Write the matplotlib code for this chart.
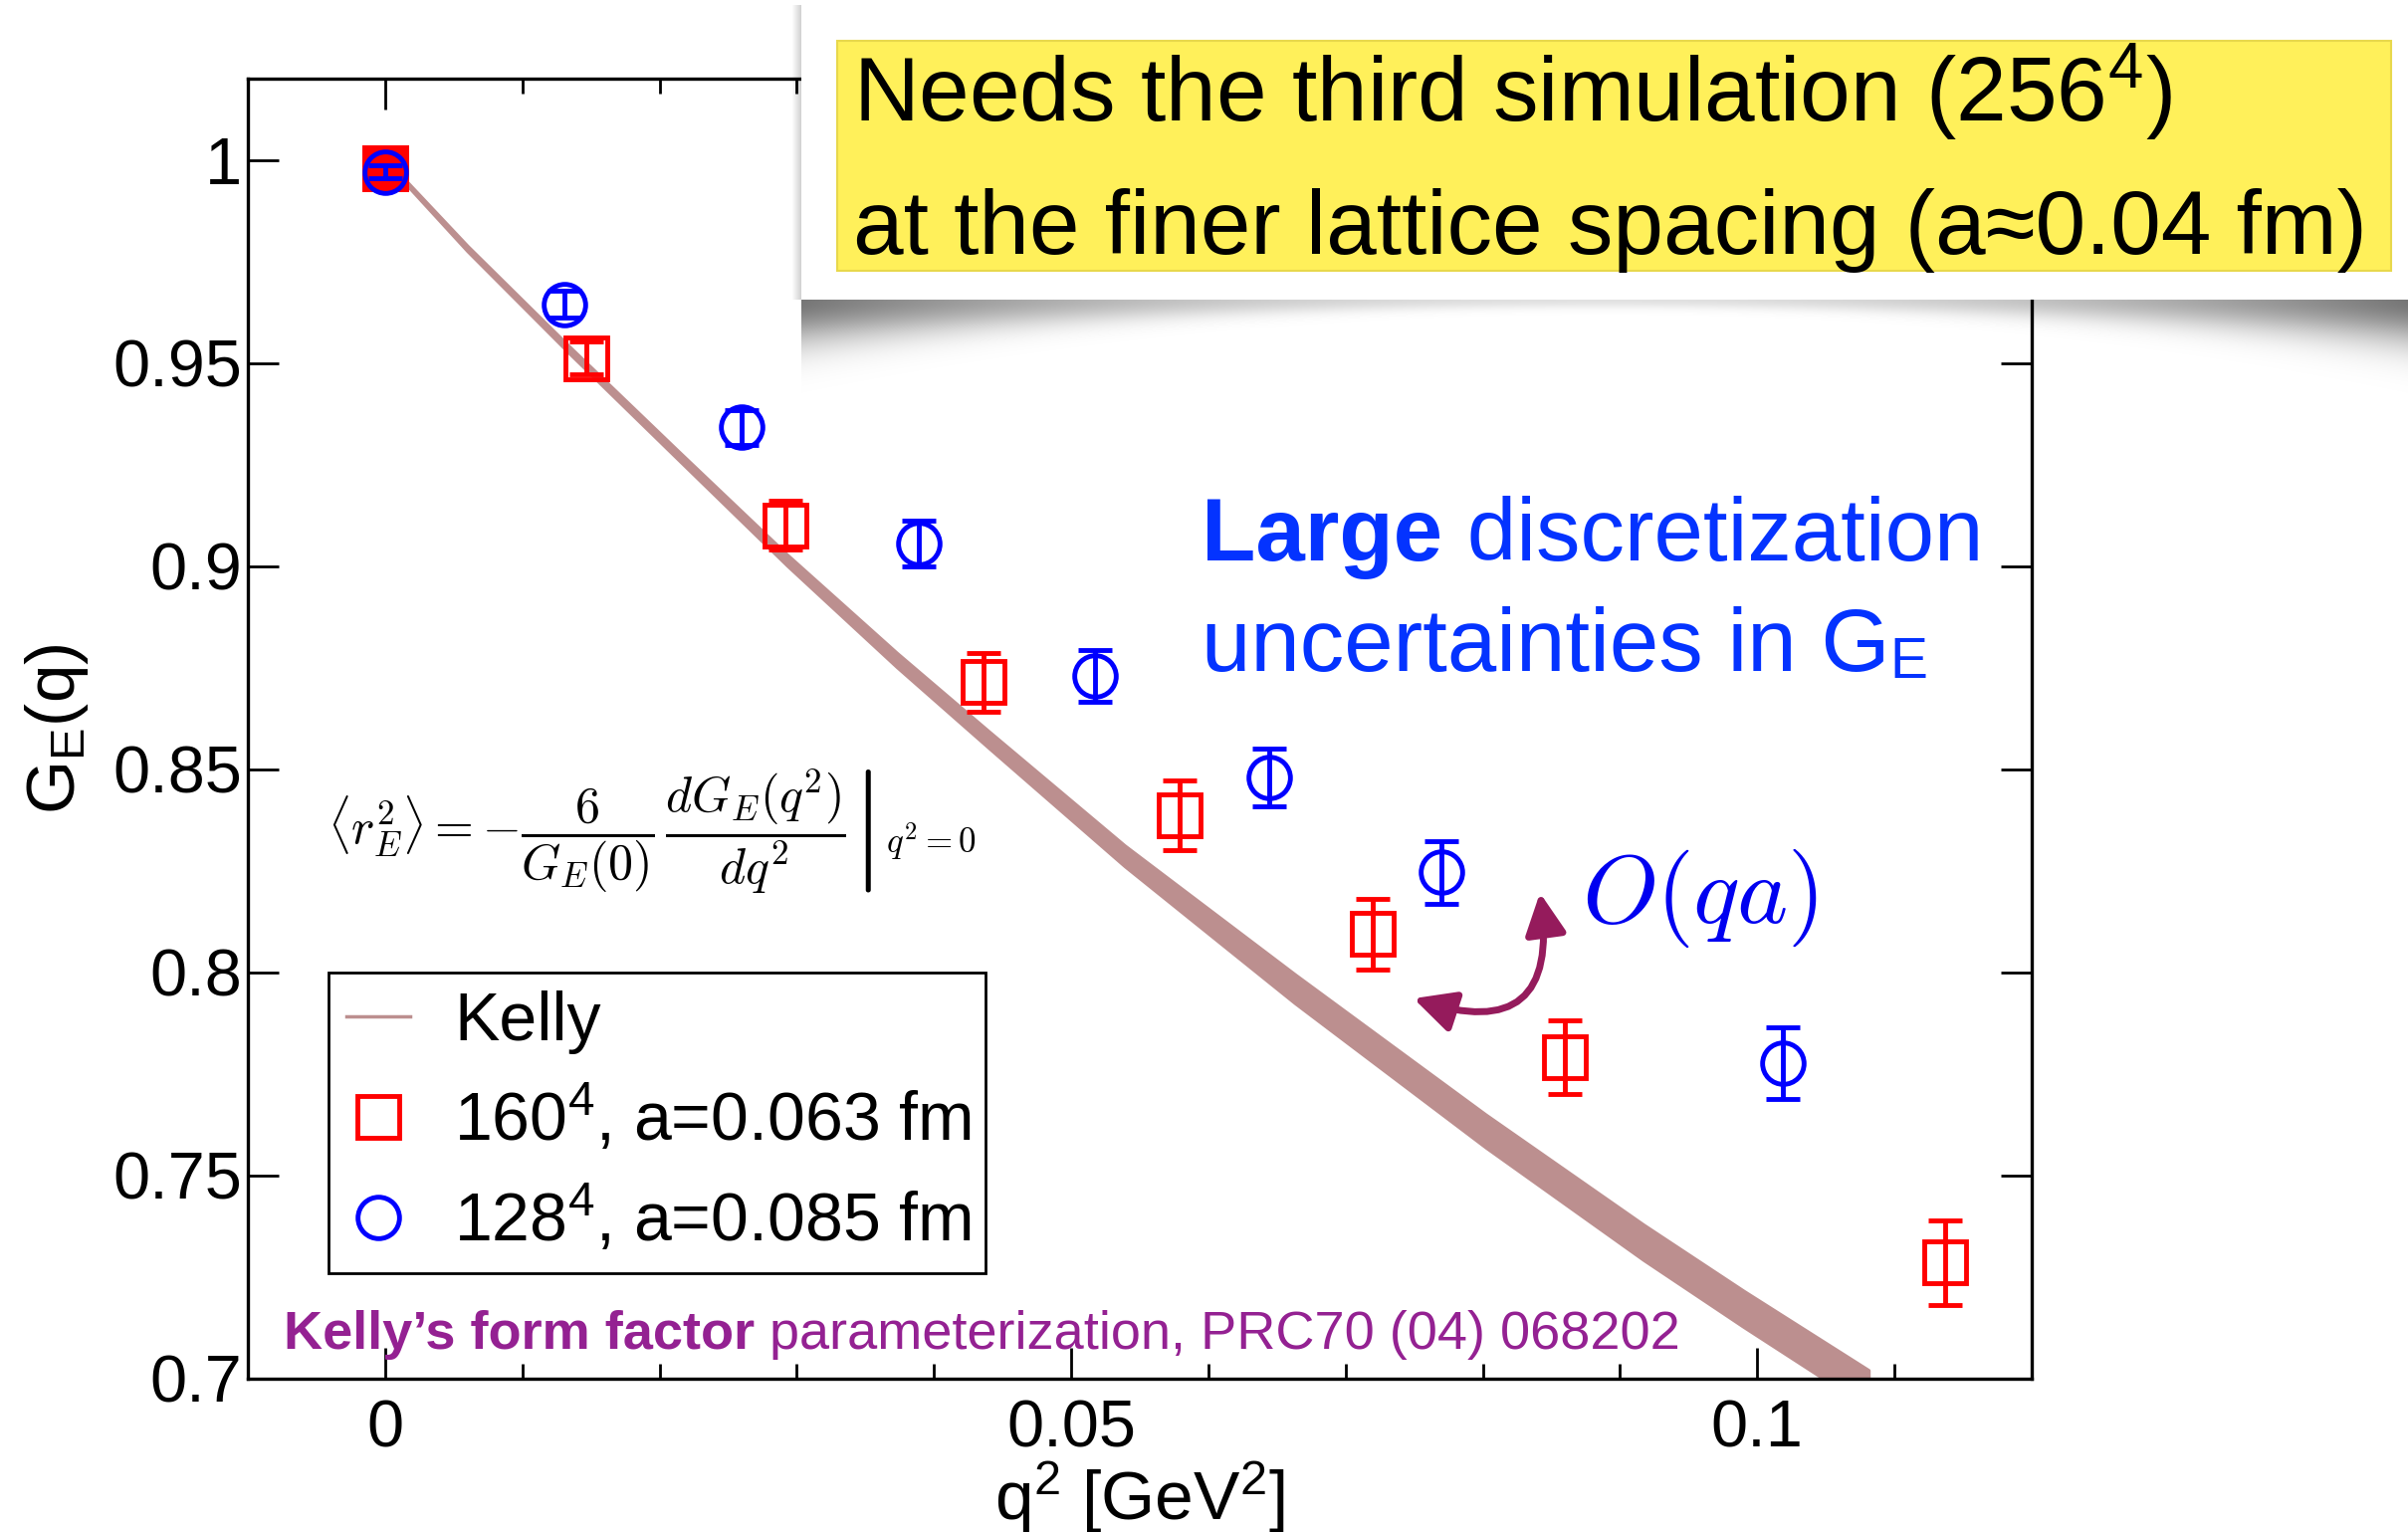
import numpy as np
import matplotlib
matplotlib.use('Agg')
import matplotlib.pyplot as plt
from matplotlib.patches import Rectangle, FancyArrowPatch
from matplotlib.lines import Line2D
from matplotlib.legend_handler import HandlerLine2D
from matplotlib.ticker import MultipleLocator, FuncFormatter

plt.rcParams['font.family'] = ['Liberation Sans', 'DejaVu Sans']
plt.rcParams['mathtext.fontset'] = 'custom'
plt.rcParams['mathtext.rm'] = 'Liberation Sans'
plt.rcParams['mathtext.it'] = 'Liberation Sans:italic'
plt.rcParams['mathtext.bf'] = 'Liberation Sans:bold'

# Kelly parameterization (central value and half-width of the band)
kelly_q2 = [0.0, 0.0060, 0.0135, 0.0213, 0.0293, 0.0373, 0.0440, 0.0539,
            0.0663, 0.0802, 0.0917, 0.0990, 0.1081]
kelly_ge = [1.0, 0.9782, 0.9530, 0.9275, 0.9015, 0.8769, 0.8573, 0.8287,
            0.7960, 0.7610, 0.7336, 0.7172, 0.6975]
kelly_err = [0.0003, 0.0006, 0.0008, 0.0010, 0.0013, 0.0017, 0.0020, 0.0025,
             0.0035, 0.0040, 0.0043, 0.0044, 0.0046]

# 160^4 lattice, a = 0.063 fm
red_q2 = [0.0, 0.0147, 0.0292, 0.0436, 0.0579, 0.0720, 0.0860, 0.1137]
red_ge = [0.998, 0.9512, 0.9100, 0.8714, 0.8387, 0.8095, 0.7792, 0.7286]
red_err = [0.001, 0.004, 0.006, 0.0073, 0.0085, 0.0087, 0.0091, 0.0104]

# 128^4 lattice, a = 0.085 fm
blue_q2 = [0.0, 0.0131, 0.0260, 0.0389, 0.0517, 0.0644, 0.0770, 0.1019]
blue_ge = [0.997, 0.9645, 0.9342, 0.9055, 0.8730, 0.8481, 0.8246, 0.7776]
blue_err = [0.0016, 0.0034, 0.0043, 0.0056, 0.0063, 0.0071, 0.0078, 0.0088]

labels = ['Kelly', r'160$^4$, a=0.063 fm', r'128$^4$, a=0.085 fm']

W, H = 2419, 1539
px = lambda x: x / W          # pixel column -> figure fraction
py = lambda y: 1 - y / H      # pixel row (from top) -> figure fraction

fig = plt.figure(figsize=(W / 100, H / 100), dpi=100)
ax = fig.add_axes([px(249), py(1385), (2041 - 249) / W, (1385 - 79) / H])

kelly_lo = np.array(kelly_ge) - np.array(kelly_err)
kelly_hi = np.array(kelly_ge) + np.array(kelly_err)
ax.fill_between(kelly_q2, kelly_lo, kelly_hi, color='rosybrown', lw=2.5, zorder=1)
ax.plot(kelly_q2, kelly_ge, color='rosybrown', lw=2.5, zorder=1, label=labels[0])

mk = dict(ms=30, mew=3.5, ls='none', zorder=3)
eb = dict(fmt='none', elinewidth=3.5, capsize=12, capthick=3.5, zorder=3)

ax.errorbar(red_q2, red_ge, yerr=red_err, ecolor='red', **eb)
ax.plot(red_q2, red_ge, marker='s', mfc='none', mec='red', label=labels[1], **mk)
ax.plot(red_q2[:1], red_ge[:1], marker='s', mfc='red', mec='red', **mk)

ax.errorbar(blue_q2, blue_ge, yerr=blue_err, ecolor='blue', **eb)
ax.plot(blue_q2, blue_ge, marker='o', mfc='none', mec='blue', label=labels[2], **mk)

ax.set_xlim(-0.01, 0.12)
ax.set_ylim(0.7, 1.02)
ax.xaxis.set_major_locator(MultipleLocator(0.05))
ax.xaxis.set_minor_locator(MultipleLocator(0.01))
ax.yaxis.set_major_locator(MultipleLocator(0.05))
fmt = FuncFormatter(lambda v, p: '%g' % round(v, 4))
ax.xaxis.set_major_formatter(fmt)
ax.yaxis.set_major_formatter(fmt)
ax.tick_params(which='both', direction='in', top=True, right=True, width=2)
ax.tick_params(which='major', length=22, labelsize=48)
ax.tick_params(which='minor', length=11)
ax.tick_params(axis='x', pad=15)
ax.tick_params(axis='y', pad=4)
for s in ax.spines.values():
    s.set_linewidth(2.4)

ax.set_xlabel(r'q$^2$ [GeV$^2$]', fontsize=50)
ax.xaxis.set_label_coords(0.5, -0.062)
ax.set_ylabel(r'G$_\mathrm{E}$(q)', fontsize=50)
ax.yaxis.set_label_coords(-0.088, 0.5)

leg = ax.legend(loc='lower left', bbox_to_anchor=(0.0452, 0.0812, 0.3683, 0.23),
                mode='expand', borderaxespad=0, fontsize=49, fancybox=False,
                edgecolor='black', framealpha=1, handlelength=0.95,
                handletextpad=0.64, borderpad=0.26, labelspacing=0.44,
                handler_map={Line2D: HandlerLine2D(xpad=0.0)})
leg.get_frame().set_linewidth(2)

# annotations
formula = (r'$\langle r_E^2\rangle = -\left.\dfrac{6}{G_E(0)}\,'
           r'\dfrac{dG_E(q^2)}{dq^2}\right|_{q^2=0}$')
fig.text(px(329), py(835), formula, fontsize=36, math_fontfamily='cm', va='center')

blue_txt = '#0433ff'
t1 = fig.text(px(1207), py(563), 'Large', fontsize=64, fontweight='bold',
              color=blue_txt, va='baseline')
ax.annotate(' discretization', xy=(1, 0), xycoords=t1, va='bottom',
            fontsize=64, color=blue_txt)
t2 = fig.text(px(1207), py(674), 'uncertainties in G', fontsize=64,
              color=blue_txt, va='baseline')
ax.annotate('E', xy=(1, 0), xycoords=t2, va='bottom', fontsize=41, color=blue_txt)

fig.text(px(1589), py(902), r'$O(qa)$', fontsize=70, color='#0000f0',
         math_fontfamily='cm', va='center')
fig.add_artist(FancyArrowPatch((px(1420), py(1003)), (px(1547), py(897)),
                               transform=fig.transFigure,
                               connectionstyle='arc3,rad=0.8',
                               arrowstyle='<|-|>,head_length=1.0,head_width=0.5',
                               mutation_scale=25, color='#951b5c', lw=5,
                               shrinkA=0, shrinkB=0))

purple = '#942192'
t3 = fig.text(px(285), py(1355), 'Kelly\u2019s form factor', fontsize=39,
              fontweight='bold', color=purple, va='baseline')
ax.annotate(' parameterization, PRC70 (04) 068202', xy=(1, 0), xycoords=t3,
            va='bottom', fontsize=39, color=purple)

# note card with drop shadow
cx0, cy0, cy1 = 805, 5, 301
sh_h = 110
u = np.linspace(0, 1, W - cx0)
edge = (2 * u - 1) ** 2
depth = 8 + 34 * edge
a0 = 0.12 + 0.42 * edge
rows = np.arange(sh_h)[:, None]
shadow = np.zeros((sh_h, len(u), 4))
shadow[..., 3] = a0[None, :] * np.exp(-(rows / depth[None, :]) ** 2)
fig.figimage(shadow, xo=cx0, yo=H - cy1 - sh_h, origin='upper', zorder=4)
side = np.zeros((cy1 - cy0, 10, 4))
side[..., 3] = np.linspace(0, 0.18, 10)[None, :]
fig.figimage(side, xo=cx0 - 10, yo=H - cy1, origin='upper', zorder=4)

fig.add_artist(Rectangle((px(cx0), py(cy1)), 1 - px(cx0), (cy1 - cy0) / H,
                         transform=fig.transFigure, fc='white', ec='none', zorder=5))
fig.add_artist(Rectangle((px(841), py(272)), (2402 - 841) / W, (272 - 41) / H,
                         transform=fig.transFigure, fc='#fff05a', ec='#e8d84c',
                         lw=1.5, zorder=6))
fig.text(px(857), py(122), r'Needs the third simulation (256$^4$)', fontsize=65.5,
         va='baseline', zorder=7)
fig.text(px(857), py(255), 'at the finer lattice spacing (a\u22480.04 fm)',
         fontsize=65.5, va='baseline', zorder=7)

fig.savefig('out.png', dpi=100)
